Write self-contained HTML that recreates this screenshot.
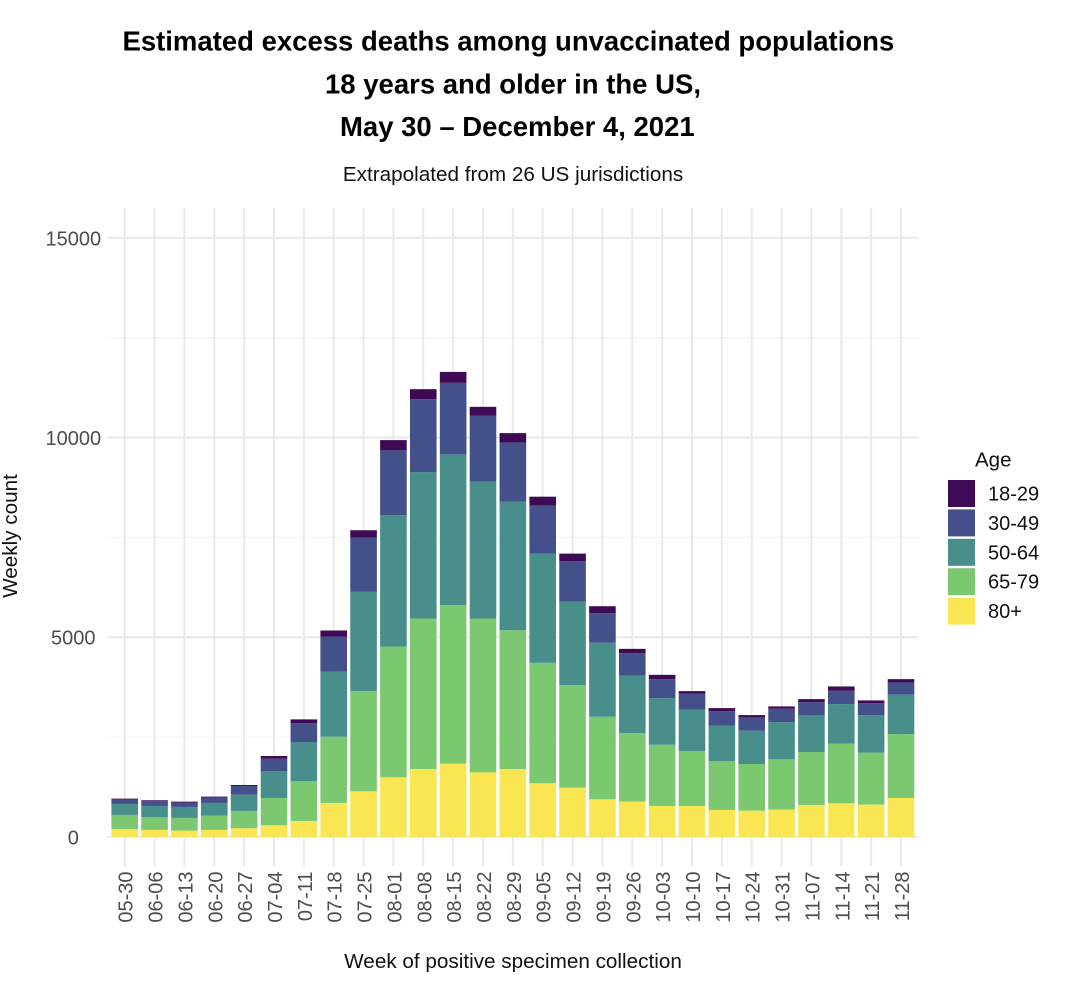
<!DOCTYPE html>
<html lang="en">
<head>
<meta charset="utf-8">
<title>Estimated excess deaths among unvaccinated populations</title>
<style>
html,body{margin:0;padding:0;background:#fff;}
svg{display:block;font-family:"Liberation Sans",Arial,sans-serif;}
</style>
</head>
<body>
<svg id="chart" xmlns="http://www.w3.org/2000/svg" width="1076" height="994" viewBox="0 0 1076 994">
  <rect width="1076" height="994" fill="#ffffff"/>
  <g id="grid"></g>
  <g id="bars"></g>
  <g id="yticks"></g>
  <g id="xticks"></g>

  <text x="122.5" y="50.5" font-size="27.5" font-weight="700" fill="#000">Estimated excess deaths among unvaccinated populations</text>
  <text x="325" y="93.5" font-size="27.5" font-weight="700" fill="#000">18 years and older in the US,</text>
  <text x="340" y="136" font-size="27.5" font-weight="700" fill="#000">May 30 – December 4, 2021</text>
  <text x="513" y="181" font-size="20.7" text-anchor="middle" fill="#111">Extrapolated from 26 US jurisdictions</text>
  <text x="513" y="968" font-size="20.7" text-anchor="middle" fill="#111">Week of positive specimen collection</text>
  <text transform="translate(17 536) rotate(-90)" font-size="20.7" text-anchor="middle" fill="#111">Weekly count</text>

  <g id="legend">
    <text x="975" y="466.5" font-size="20.5" fill="#111">Age</text>
  </g>
</svg>
<script>
const weeks = ["05-30","06-06","06-13","06-20","06-27","07-04","07-11","07-18","07-25","08-01","08-08","08-15","08-22","08-29","09-05","09-12","09-19","09-26","10-03","10-10","10-17","10-24","10-31","11-07","11-14","11-21","11-28"];
const age80plus = [192,175,158,175,217,292,400,850,1142,1492,1700,1833,1617,1700,1342,1233,942,883,775,775,675,658,683,800,842,808,975];
const age65to79 = [358,317,317,358,433,683,992,1658,2508,3275,3767,3972,3850,3475,3016,2567,2066,1717,1533,1375,1225,1167,1259,1325,1491,1300,1600];
const age50to64 = [275,283,275,317,408,675,983,1630,2485,3285,3668,3772,3426,3218,2735,2090,1855,1442,1167,1033,883,833,933,917,992,942,992];
const age30to49 = [108,117,108,133,217,308,475,880,1358,1626,1825,1791,1658,1483,1200,1011,738,558,475,400,367,334,333,333,333,300,300];
const age18to29 = [25,25,25,25,25,67,92,150,185,257,250,275,217,234,225,192,175,108,108,67,75,58,59,75,109,67,83];
const majorTicks = [0,5000,10000,15000];
const minorTicks = [2500,7500,12500];
const legendLabels = ["18-29","30-49","50-64","65-79","80+"];

const NS = "http://www.w3.org/2000/svg";
const stackOrder = [age80plus, age65to79, age50to64, age30to49, age18to29];
const stackNames = ["80-plus","65-79","50-64","30-49","18-29"];
const stackColors = ["#F9E652","#7CC870","#488F8C","#43508A","#3F0A55"];
const legendColors = ["#3F0A55","#43508A","#488F8C","#7CC870","#F9E652"];

function xScale(i){ return 124.7 + i * (901 - 124.7) / (weeks.length - 1); }
function yScale(v){ return 836.9 - v * 199.7 / 5000; }
function mk(tag, attrs, parent){
  const el = document.createElementNS(NS, tag);
  for (const k in attrs) el.setAttribute(k, attrs[k]);
  parent.appendChild(el);
  return el;
}

const grid = document.getElementById("grid");
minorTicks.forEach(function(t){
  const l = mk("line", {x1:107, x2:919, y1:yScale(t), y2:yScale(t), stroke:"#F5F5F5", "stroke-width":1.2}, grid);
  
  
});
majorTicks.forEach(function(t){
  const l = mk("line", {x1:107, x2:919, y1:yScale(t), y2:yScale(t), stroke:"#E9E9E9", "stroke-width":2}, grid);
  
  
});
weeks.forEach(function(w, i){
  const l = mk("line", {x1:xScale(i), x2:xScale(i), y1:208, y2:866, stroke:"#E9E9E9", "stroke-width":2}, grid);
  
  
});

const bars = document.getElementById("bars");
const barWidth = 26.6;
weeks.forEach(function(w, i){
  let cum = 0;
  stackOrder.forEach(function(series, s){
    const top = yScale(cum + series[i]);
    const bottom = yScale(cum);
    const r = mk("rect", {x:xScale(i) - barWidth/2, y:top, width:barWidth, height:bottom - top, fill:stackColors[s]}, bars);
    
    
    cum += series[i];
  });
});

const yt = document.getElementById("yticks");
majorTicks.forEach(function(t){
  const e = mk("text", {x:73.3, y:yScale(t) + 7.5, "font-size":20, "text-anchor":"middle", fill:"#4D4D4D"}, yt);
  e.textContent = String(t);
  
  
});

const xt = document.getElementById("xticks");
weeks.forEach(function(w, i){
  const e = mk("text", {transform:"translate(" + (xScale(i) + 8) + " 871.5) rotate(-90)", "font-size":20, "text-anchor":"end", fill:"#4D4D4D"}, xt);
  e.textContent = w;
  
  
});

const lg = document.getElementById("legend");
legendLabels.forEach(function(lab, i){
  const top = 480 + i * 29.4;
  const k = mk("rect", {x:948, y:top, width:27, height:27, fill:legendColors[i]}, lg);
  
  
  const t = mk("text", {x:988, y:top + 20.5, "font-size":20, fill:"#111"}, lg);
  t.textContent = lab;
  
  
});
</script>
</body>
</html>
